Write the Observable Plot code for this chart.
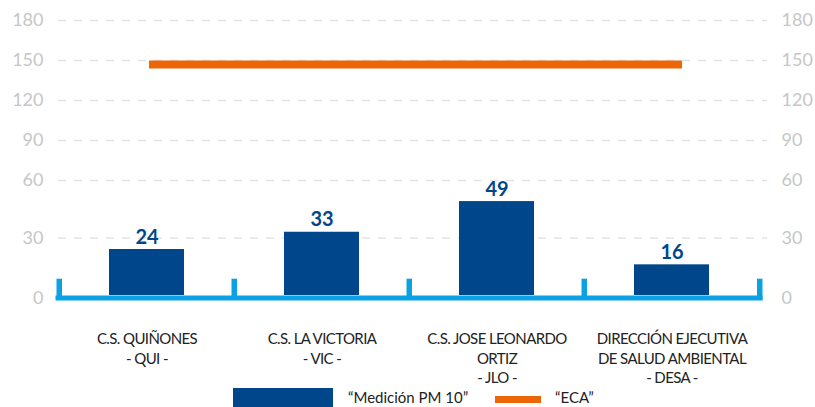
<!DOCTYPE html>
<html>
<head>
<meta charset="utf-8">
<script src="https://cdn.jsdelivr.net/npm/d3@7"></script>
<script src="https://cdn.jsdelivr.net/npm/@observablehq/plot@0.6"></script>
<style>
  html, body { margin: 0; padding: 0; background: #fff; }
  #chart svg { display: block; font-family: Lato, "Open Sans", sans-serif; }
  #legend { position: relative; width: 815px; height: 21px; font-family: Lato, "Open Sans", sans-serif; font-size: 15px; color: #222; overflow: hidden; }
  #legend .sw, #legend .lb { position: absolute; }
</style>
</head>
<body>
<div id="chart"></div>
<div id="legend"></div>
<script>
const categories = ["QUI", "VIC", "JLO", "DESA"];
const categoryLabels = [
  "C.S. QUIÑONES\n- QUI -",
  "C.S. LA VICTORIA\n- VIC -",
  "C.S. JOSE LEONARDO\nORTIZ\n- JLO -",
  "DIRECCIÓN EJECUTIVA\nDE SALUD AMBIENTAL\n- DESA -"
];
const pm10 = [24, 33, 49, 16];
const eca = [150, 150, 150, 150];
const yTicks = [0, 30, 60, 90, 120, 150, 180];
const seriesNames = ["“Medición PM 10”", "“ECA”"];

const colors = { bar: "#00468a", eca: "#ec6608", axis: "#0aa2e4", grid: "#e3e3e3", tick: "#c6c6c6", text: "#222" };

const rows = categories.map((c, i) => ({ cat: c, label: categoryLabels[i], pm10: pm10[i], eca: eca[i] }));

const W = 815, H = 386, mL = 58, mR = 55;
const step = (W - mL - mR) / categories.length;

const axisOpts = { tickSize: 0, fontSize: 18, fill: colors.tick, label: null, tickFormat: d3.format("d") };

const plot = Plot.plot({
  width: W,
  height: H,
  marginLeft: mL,
  marginRight: mR,
  marginTop: 20,
  marginBottom: 91,
  x: { domain: categories, paddingInner: 0.573, paddingOuter: 0.2865, axis: null },
  y: { type: "linear", domain: [0, 60, 180], range: [295, 180, 20], axis: null },
  marks: [
    Plot.ruleY(yTicks.filter(d => d > 0), { stroke: colors.grid, strokeWidth: 1.5, strokeDasharray: "8,8", insetRight: -7 }),
    Plot.axisY({ ...axisOpts, anchor: "left", ticks: yTicks.filter(d => d > 0), tickPadding: 15 }),
    Plot.axisY({ ...axisOpts, anchor: "right", ticks: yTicks.filter(d => d > 0), tickPadding: 21 }),
    Plot.axisY({ ...axisOpts, anchor: "left", ticks: [0], tickPadding: 15, dy: 3 }),
    Plot.axisY({ ...axisOpts, anchor: "right", ticks: [0], tickPadding: 21, dy: 3 }),
    Plot.barY(rows, { x: "cat", y: "pm10", fill: colors.bar }),
    Plot.ruleY([0], { stroke: colors.axis, strokeWidth: 5, dy: 2.5, strokeLinecap: "square" }),
    Plot.ruleX(categories, { x: d => d, y1: -2.6, y2: 8.5, dx: -step / 2, stroke: colors.axis, strokeWidth: 5.5 }),
    Plot.ruleX(categories.slice(-1), { x: d => d, y1: -2.6, y2: 8.5, dx: step / 2, stroke: colors.axis, strokeWidth: 5.5 }),
    Plot.lineY(rows, { x: "cat", y: "eca", stroke: colors.eca, strokeWidth: 8, strokeLinecap: "square", dx: 6, dy: 4 }),
    Plot.text(rows, { x: "cat", y: "pm10", text: d => String(d.pm10), dy: -6, lineAnchor: "bottom", fontSize: 20, fontWeight: "bold", fill: colors.bar }),
    Plot.text(rows, { x: "cat", y: d => 0, text: "label", lineAnchor: "top", dy: 35, lineHeight: 1.3, fontSize: 15, fill: colors.text })
  ]
});
const textGroups = plot.querySelectorAll('g[aria-label="text"]');
if (textGroups.length) textGroups[textGroups.length - 1].setAttribute("letter-spacing", "-0.6");
document.getElementById("chart").appendChild(plot);

const legend = document.getElementById("legend");
legend.innerHTML =
  `<div class="sw" style="left:233px;top:2px;width:100px;height:19px;background:${colors.bar}"></div>` +
  `<div class="lb" style="left:348px;top:2px;line-height:18px">${seriesNames[0]}</div>` +
  `<div class="sw" style="left:495px;top:10px;width:46px;height:7px;background:${colors.eca}"></div>` +
  `<div class="lb" style="left:555px;top:2px;line-height:18px">${seriesNames[1]}</div>`;
</script>
</body>
</html>
